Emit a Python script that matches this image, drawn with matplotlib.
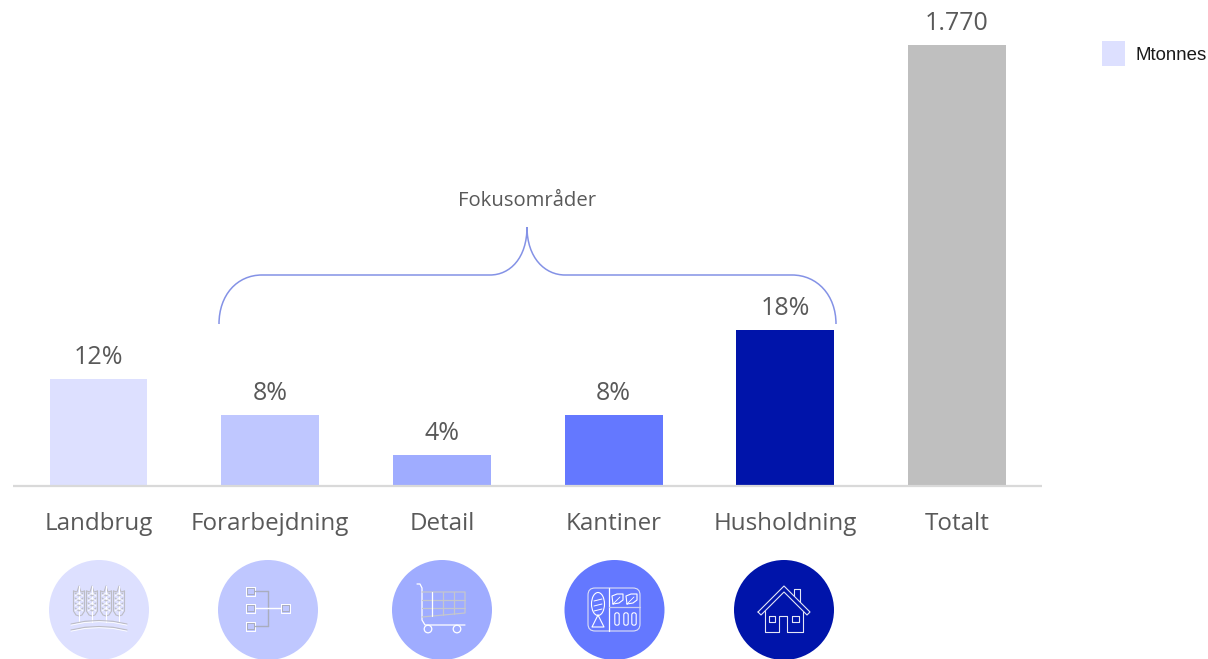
import numpy as np
import matplotlib
matplotlib.use('Agg')
import matplotlib.pyplot as plt
from matplotlib.patches import Circle, Patch, Ellipse, PathPatch, FancyBboxPatch
from matplotlib.path import Path
from matplotlib.transforms import Affine2D

# Data
categories = ['Landbrug', 'Forarbejdning', 'Detail', 'Kantiner', 'Husholdning', 'Totalt']
bar_heights = [106, 70, 30, 70, 155, 440]  # the bars have no axis
value_labels = ['12%', '8%', '4%', '8%', '18%', '1.770']
bar_colors = ['#DDE0FF', '#BFC7FF', '#9FACFF', '#6478FF', '#0014AA', '#BFBFBF']
legend_label = 'Mtonnes'
brace_label = 'Fokusområder'

W, H = 1208, 659
plt.rcParams['font.family'] = ['Open Sans', 'DejaVu Sans']

fig = plt.figure(figsize=(W / 100, H / 100), dpi=100)
ax = fig.add_axes([0, 0, 1, 1])
ax.set_xlim(-98.5 / 171.7, (W - 98.5) / 171.7)
ax.set_ylim(-(H - 485), 485)
ax.axis('off')

# pixel coordinates of the picture, y going down (for brace and icons)
pix = Affine2D().scale(1, -1).translate(0, H)

x = np.arange(len(categories))
bars = ax.bar(x, bar_heights, width=0.57, color=bar_colors, linewidth=0)

for xi, h, lab in zip(x, bar_heights, value_labels):
    ax.text(xi, h + 9, lab, ha='center', va='bottom', fontsize=18, color='#595959')
for xi, lab in zip(x, categories):
    ax.text(xi, -39, lab, ha='center', va='center', fontsize=17.4, color='#595959')

# Baseline
ax.plot([13, 1042], [486, 486], transform=pix, color='#D9D9D9', lw=1.6, solid_capstyle='butt')

# Brace
verts = [(219, 324), (219, 295), (237, 275), (262, 275), (490, 275),
         (510, 275), (527, 258), (527, 227), (527, 258), (545, 275), (565, 275),
         (792, 275), (817, 275), (836, 295), (836, 324)]
codes = [Path.MOVETO, Path.CURVE4, Path.CURVE4, Path.CURVE4, Path.LINETO,
         Path.CURVE4, Path.CURVE4, Path.CURVE4, Path.CURVE4, Path.CURVE4, Path.CURVE4,
         Path.LINETO, Path.CURVE4, Path.CURVE4, Path.CURVE4]
ax.add_patch(PathPatch(Path(verts, codes), transform=pix, fill=False, ec='#8492E6', lw=1.1))
ax.text(527, 201, brace_label, transform=pix, ha='center', va='center', fontsize=14.6, color='#595959')


# Icons
def line(xs, ys, color, lw=0.8):
    ax.plot(xs, ys, transform=pix, color=color, lw=lw, solid_capstyle='round')


def box(x0, y0, x1, y1, color, lw=0.8):
    line([x0, x1, x1, x0, x0], [y0, y0, y1, y1, y0], color, lw)


circle_x = [99, 268, 442, 614.5, 784]
for cx, col in zip(circle_x, bar_colors):
    ax.add_patch(Circle((cx, 610), 50, transform=pix, fc=col, ec='none'))

# wheat
grey = '#BDBDC4'
for sx in [79, 92, 106, 119]:
    line([sx - 5.5, sx - 5.5, sx - 3, sx, sx + 3, sx + 5.5, sx + 5.5],
         [591, 611, 615, 616, 615, 611, 591], grey)
    line([sx - 5.5, sx - 2, sx, sx + 2, sx + 5.5], [591, 592, 586, 592, 591], grey)
    line([sx, sx], [586, 622], 'white', 0.8)
    for yy in [593, 598, 603, 608]:
        line([sx - 4, sx, sx + 4], [yy, yy + 3, yy], grey, 0.8)
        line([sx - 4, sx, sx + 4], [yy + 3, yy, yy + 3], 'white', 0.6)
for yy in [622, 628]:
    line([71, 85, 99, 113, 127], [yy + 2, yy - 0.7, yy - 1.5, yy - 0.7, yy + 2], grey)
    line([71, 85, 99, 113, 127], [yy + 3.2, yy + 0.5, yy - 0.3, yy + 0.5, yy + 3.2], 'white', 0.6)

# process tree
grey = '#A9ADBE'
for bx, by in [(246, 587), (246, 604), (246, 622), (281, 604)]:
    box(bx, by, bx + 9, by + 8.5, 'white', 0.7)
    box(bx + 1.3, by + 1.3, bx + 7.7, by + 7.2, grey, 0.7)
for yy in [591, 626]:
    line([255, 268], [yy, yy], grey, 1.0)
line([268, 268], [591, 626], grey, 1.0)
line([255, 281], [608, 608], 'white', 1.0)

# cart
grey = '#C4C6CE'
line([417, 420, 422, 422, 425, 465], [584, 584, 588, 620, 625, 625], 'white', 0.9)
line([422, 465, 465, 422], [592, 592, 613, 617], grey, 0.9)
for yy in [600, 608]:
    line([422, 465], [yy, yy], grey, 0.9)
for xx, yb in [(432, 616), (443, 615), (454, 614)]:
    line([xx, xx], [592, yb], 'white' if xx == 432 else grey, 0.9)
for wx in [428, 457]:
    ax.add_patch(Circle((wx, 629), 3.8, transform=pix, fill=False, ec='white', lw=0.9))

# food tray
ax.add_patch(FancyBboxPatch((592, 592), 44, 35, boxstyle='round,pad=4,rounding_size=7', transform=pix,
                            fill=False, ec='#DDE0F5', lw=0.8))
line([609, 609], [588, 631], 'white', 0.9)
line([609, 640], [607, 607], '#C8CCF0', 0.9)
ax.add_patch(Ellipse((598, 604), 13, 23, transform=pix, fill=False, ec='white', lw=0.8))
line([598, 592, 604, 598], [615, 627, 627, 615], 'white', 0.8)
for yy in [600, 605, 610]:
    line([594, 602], [yy + 1, yy - 1], 'white', 0.7)
for lx in [618, 632]:
    leaf = [(lx - 5, 604), (lx - 6, 596), (lx - 1, 594), (lx + 5, 594), (lx + 5, 600), (lx + 1, 603), (lx - 5, 604)]
    line([p[0] for p in leaf], [p[1] for p in leaf], 'white', 0.8)
    line([lx - 5, lx + 2], [604, 597], 'white', 0.6)
for ox in [617, 626, 634]:
    ax.add_patch(FancyBboxPatch((ox - 1, 614), 2, 10, boxstyle='round,pad=1.2,rounding_size=2', transform=pix,
                                fill=False, ec='white', lw=0.8))

# house
col = '#E4E6F5'
line([758, 784, 810, 807, 784, 761, 758], [612, 586, 612, 615, 592, 615, 612], col, 0.8)
line([765, 765, 779, 779, 787, 787, 803, 803], [611, 632, 632, 616, 616, 632, 632, 611], col, 0.8)
box(769, 616, 775, 622, col, 0.8)
box(792, 616, 799, 622, col, 0.8)
line([794, 794, 800, 800], [596, 589, 589, 602], col, 0.8)

# Legend
ax.legend(handles=[Patch(fc=bar_colors[0], ec='none', label=legend_label)],
          loc='center left', bbox_to_anchor=(1102 / W, 1 - 53.5 / H), frameon=False,
          prop={'family': 'Liberation Sans', 'size': 13.4}, handlelength=1.24, handleheight=1.75,
          handletextpad=0.55, borderpad=0, borderaxespad=0, labelcolor='#1a1a1a')

fig.savefig('out.png', dpi=100)
